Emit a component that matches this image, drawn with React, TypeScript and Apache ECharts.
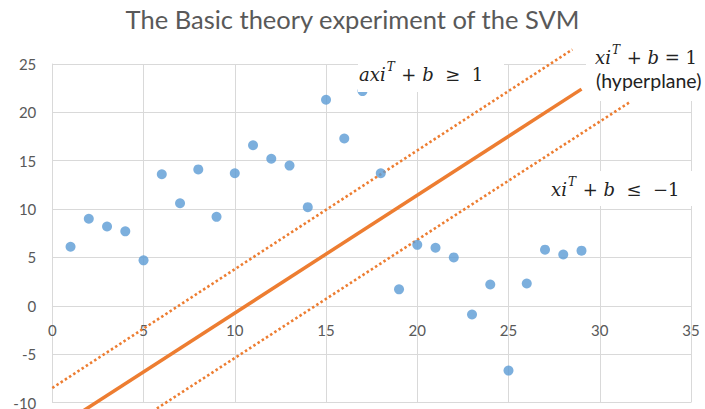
import React, { useEffect, useRef } from 'react';
import * as echarts from 'echarts';

const titleText = 'The Basic theory experiment of the SVM';

// Sample points
const sampleX = [1, 2, 3, 4, 5, 6, 7, 8, 9, 10, 11, 12, 13, 14, 15, 16, 17, 18, 19, 20, 21, 22, 23, 24, 25, 26, 27, 28, 29];
const sampleY = [6.1, 9.0, 8.2, 7.7, 4.7, 13.6, 10.6, 14.1, 9.2, 13.7, 16.6, 15.2, 14.5, 10.2, 21.3, 17.3, 22.2, 13.7, 1.7, 6.3, 6.0, 5.0, -0.9, 2.2, -6.7, 2.3, 5.8, 5.3, 5.7];

// Hyperplane and margin lines (end points)
const hyperplaneX = [1.5, 29.0];
const hyperplaneY = [-11.1, 22.4];
const upperMarginX = [0, 28.5];
const upperMarginY = [-8.5, 26.5];
const lowerMarginX = [5.5, 31.6];
const lowerMarginY = [-10.9, 21.0];

// Axis ticks
const xMin = 0, xMax = 35, xStep = 5;
const yMin = -10, yMax = 25, yStep = 5;

const GRAY = '#595959';
const GRID = '#D9D9D9';
const BLUE = '#5B9BD5';
const ORANGE = '#ED7D31';
const INK = '#222222';

const W = 705, H = 409;
const GRID_TOP = 64, GRID_BOTTOM = 6.5, GRID_LEFT = 52.3, GRID_RIGHT = 14;
const plotH = H - GRID_TOP - GRID_BOTTOM;
// shift the x axis (line + labels) up to the y = 0 level
const xAxisOffset = -((0 - yMin) / (yMax - yMin)) * plotH;

const pairs = (xs: number[], ys: number[]) => xs.map((x, i) => [x, ys[i]]);

const MF = 18;
const mathRich: any = {
  m: { fontFamily: 'DejaVu Serif', fontStyle: 'italic', fontSize: MF, fill: INK, color: INK, lineHeight: 26 },
  s: { fontFamily: 'DejaVu Serif', fontStyle: 'italic', fontSize: 12, fill: INK, color: INK, lineHeight: 13, verticalAlign: 'top', padding: [0, 1, 0, 1] },
  r: { fontFamily: 'DejaVu Serif', fontSize: MF, fill: INK, color: INK, lineHeight: 26 },
};

export default function App() {
  const ref = useRef<HTMLDivElement>(null);
  useEffect(() => {
    if (!ref.current) return;
    const chart = echarts.init(ref.current, undefined, { renderer: 'svg' });
    chart.setOption({
      animation: false,
      backgroundColor: '#ffffff',
      title: {
        text: titleText,
        left: 'center',
        top: 1,
        padding: [5, 0, 5, 14],
        textStyle: { fontFamily: 'Lato', fontSize: 25.5, fontWeight: 'normal', color: GRAY },
      },
      grid: { left: GRID_LEFT, right: GRID_RIGHT, top: GRID_TOP, bottom: GRID_BOTTOM, containLabel: false, outerBoundsMode: 'none' },
      xAxis: {
        type: 'value',
        min: xMin,
        max: xMax,
        interval: xStep,
        position: 'bottom',
        offset: xAxisOffset,
        axisLine: { show: true, onZero: false, lineStyle: { color: GRID, width: 1 } },
        axisTick: { show: false },
        axisLabel: { margin: 17, color: GRAY, fontFamily: 'Lato', fontSize: 15 },
        splitLine: { show: true, lineStyle: { color: GRID, width: 1 } },
      },
      yAxis: {
        type: 'value',
        min: yMin,
        max: yMax,
        interval: yStep,
        axisLine: { show: true, onZero: false, lineStyle: { color: GRID, width: 1 } },
        axisTick: { show: false },
        axisLabel: { margin: 16, color: GRAY, fontFamily: 'Lato', fontSize: 15 },
        splitLine: { show: true, lineStyle: { color: GRID, width: 1 } },
      },
      series: [
        {
          name: 'upper margin',
          type: 'line',
          data: pairs(upperMarginX, upperMarginY),
          symbol: 'none',
          clip: false,
          lineStyle: { color: ORANGE, width: 2.6, type: [2.5, 2.5] },
          z: 2,
        },
        {
          name: 'hyperplane',
          type: 'line',
          data: pairs(hyperplaneX, hyperplaneY),
          symbol: 'none',
          clip: false,
          lineStyle: { color: ORANGE, width: 3.5 },
          z: 2,
        },
        {
          name: 'lower margin',
          type: 'line',
          data: pairs(lowerMarginX, lowerMarginY),
          symbol: 'none',
          clip: false,
          lineStyle: { color: ORANGE, width: 2.6, type: [2.5, 2.5] },
          z: 2,
        },
        {
          name: 'samples',
          type: 'scatter',
          data: pairs(sampleX, sampleY),
          symbol: 'circle',
          symbolSize: 10,
          itemStyle: { color: BLUE },
          z: 3,
        },
      ],
      graphic: [
        { type: 'rect', z: 10, shape: { x: 358, y: 56, width: 146, height: 36 }, style: { fill: '#ffffff' } },
        {
          type: 'text', z: 11, x: 359, y: 61,
          style: { text: '{m|axi}{s|T}{r| + }{m|b}{r|  ≥  1}', rich: mathRich, verticalAlign: 'top', align: 'left' },
        },
        { type: 'rect', z: 10, shape: { x: 586, y: 36, width: 119, height: 65 }, style: { fill: '#ffffff' } },
        {
          type: 'text', z: 11, x: 595, y: 44,
          style: { text: '{m|xi}{s|T}{r| + }{m|b}{r| = 1}', rich: mathRich, verticalAlign: 'top', align: 'left' },
        },
        {
          type: 'text', z: 11, x: 596, y: 70,
          style: { text: '(hyperplane)', fontFamily: 'Lato', fontSize: 19.5, fill: INK, verticalAlign: 'top', align: 'left' },
        },
        { type: 'rect', z: 10, shape: { x: 543, y: 171, width: 155, height: 35 }, style: { fill: '#ffffff' } },
        {
          type: 'text', z: 11, x: 551, y: 176,
          style: { text: '{m|xi}{s|T}{r| + }{m|b}{r|  ≤  −1}', rich: mathRich, verticalAlign: 'top', align: 'left' },
        },
      ],
    });
    return () => chart.dispose();
  }, []);
  return <div ref={ref} style={{ position: 'fixed', left: 0, top: 0, width: W, height: H }} />;
}
